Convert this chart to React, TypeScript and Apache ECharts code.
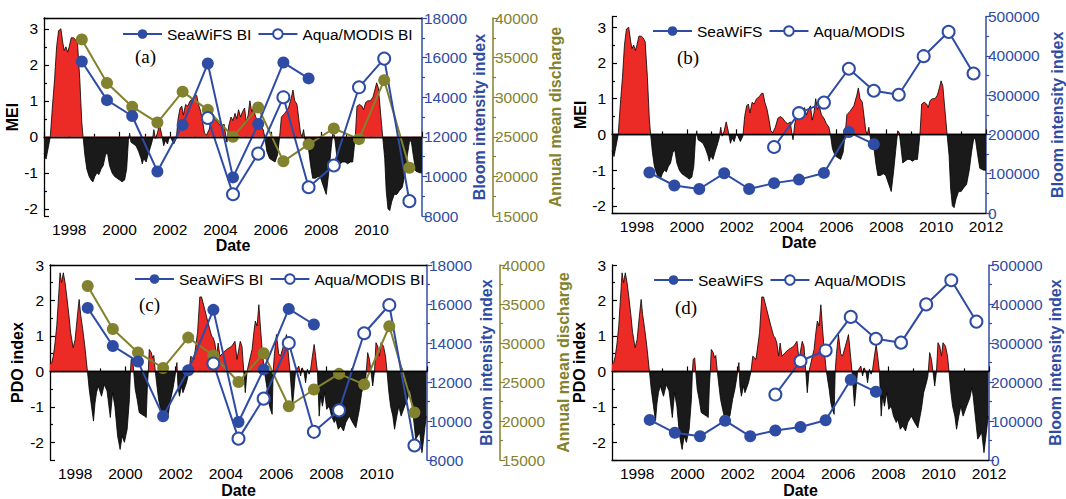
import React, { useEffect, useRef } from 'react';
import * as echarts from 'echarts';

// Monthly-ish MEI (year, value)
const meiData: [number, number][] = [
  [1997.0, -0.45], [1997.08, -0.62], [1997.17, -0.3], [1997.25, 0.0], [1997.33, 0.8], [1997.42, 1.6],
  [1997.5, 2.5], [1997.58, 2.95], [1997.67, 3.0], [1997.75, 2.6], [1997.8, 2.4], [1997.87, 2.5],
  [1997.94, 2.35], [1998.0, 2.5], [1998.08, 2.75], [1998.17, 2.75], [1998.25, 2.7], [1998.33, 2.6],
  [1998.42, 1.6], [1998.5, 0.4], [1998.55, 0.0], [1998.62, -0.5], [1998.7, -0.9], [1998.79, -1.1],
  [1998.87, -1.2], [1998.94, -1.25], [1999.02, -1.1], [1999.1, -1.0], [1999.18, -1.05], [1999.26, -0.9],
  [1999.35, -0.8], [1999.44, -0.5], [1999.52, -0.45], [1999.6, -0.8], [1999.7, -1.0], [1999.8, -1.1],
  [1999.9, -1.15], [2000.0, -1.2], [2000.1, -1.25], [2000.2, -1.2], [2000.28, -0.9], [2000.35, -0.1],
  [2000.4, 0.1], [2000.45, -0.15], [2000.55, -0.2], [2000.65, -0.25], [2000.75, -0.4], [2000.85, -0.6],
  [2000.9, -0.75], [2000.96, -0.6], [2001.05, -0.7], [2001.13, -0.5], [2001.22, -0.3], [2001.3, -0.1],
  [2001.36, 0.2], [2001.42, -0.05], [2001.5, 0.1], [2001.58, 0.35], [2001.66, 0.1], [2001.75, -0.25],
  [2001.82, -0.1], [2001.9, -0.2], [2001.98, 0.0], [2002.05, -0.05], [2002.15, -0.2], [2002.25, -0.05],
  [2002.32, 0.5], [2002.4, 0.8], [2002.47, 0.85], [2002.53, 0.6], [2002.62, 0.9], [2002.7, 0.85],
  [2002.8, 1.0], [2002.9, 1.05], [2003.0, 1.15], [2003.06, 1.15], [2003.13, 0.9], [2003.22, 0.7],
  [2003.3, 0.4], [2003.37, 0.1], [2003.45, 0.05], [2003.55, 0.2], [2003.65, 0.45], [2003.75, 0.5],
  [2003.85, 0.45], [2003.95, 0.35], [2004.05, 0.3], [2004.15, 0.35], [2004.22, 0.0], [2004.26, -0.15],
  [2004.33, 0.3], [2004.42, 0.55], [2004.5, 0.45], [2004.58, 0.65], [2004.65, 0.5], [2004.72, 0.75],
  [2004.8, 0.55], [2004.88, 0.7], [2004.96, 0.8], [2005.03, 0.4], [2005.1, 0.6], [2005.17, 1.0],
  [2005.24, 0.7], [2005.31, 0.8], [2005.4, 0.55], [2005.5, 0.45], [2005.6, 0.3], [2005.7, 0.2],
  [2005.76, 0.0], [2005.84, -0.4], [2005.95, -0.6], [2006.05, -0.65], [2006.17, -0.7], [2006.27, -0.5],
  [2006.35, 0.0], [2006.42, 0.55], [2006.55, 0.65], [2006.7, 0.8], [2006.82, 1.1], [2006.88, 1.3],
  [2006.95, 1.0], [2007.04, 0.9], [2007.11, 0.5], [2007.18, 0.1], [2007.24, 0.0], [2007.3, 0.2],
  [2007.35, -0.05], [2007.42, -0.3], [2007.5, -0.35], [2007.58, -0.8], [2007.66, -1.15], [2007.77, -1.15],
  [2007.88, -1.1], [2007.98, -1.15], [2008.1, -1.4], [2008.2, -1.6], [2008.3, -1.0], [2008.4, -0.3],
  [2008.46, 0.1], [2008.52, 0.05], [2008.58, -0.3], [2008.66, -0.8], [2008.75, -0.75], [2008.85, -0.7],
  [2008.95, -0.7], [2009.05, -0.75], [2009.15, -0.7], [2009.25, -0.7], [2009.31, -0.3], [2009.36, 0.1],
  [2009.42, 0.85], [2009.52, 0.9], [2009.62, 0.85], [2009.68, 0.75], [2009.76, 0.95], [2009.85, 1.0],
  [2009.95, 1.0], [2010.05, 1.1], [2010.13, 1.3], [2010.2, 1.5], [2010.27, 1.35], [2010.37, 0.55],
  [2010.44, 0.0], [2010.52, -0.6], [2010.58, -1.5], [2010.65, -2.0], [2010.72, -2.05], [2010.8, -1.8],
  [2010.9, -1.6], [2011.0, -1.6], [2011.1, -1.5], [2011.22, -1.4], [2011.33, -1.0], [2011.42, -0.5],
  [2011.5, -0.15], [2011.57, -0.1], [2011.65, -0.5], [2011.75, -0.95], [2011.9, -1.0], [2012.0, -1.0],
];

// PDO index (year, value)
const pdoData: [number, number][] = [
  [1997.0, 0.2], [1997.07, 0.25], [1997.13, 0.43], [1997.2, 0.8], [1997.27, 1.3], [1997.35, 2.2],
  [1997.4, 2.78], [1997.46, 2.5], [1997.53, 2.78], [1997.6, 2.5], [1997.67, 2.1], [1997.75, 1.6],
  [1997.82, 1.1], [1997.92, 0.67], [1998.0, 0.9], [1998.08, 1.5], [1998.16, 2.03], [1998.22, 1.6],
  [1998.3, 1.2], [1998.38, 0.75], [1998.49, 0.0], [1998.56, -0.5], [1998.65, -0.98], [1998.73, -1.4],
  [1998.79, -0.9], [1998.85, -0.6], [1998.92, -0.41], [1999.05, -0.7], [1999.16, -0.37], [1999.27, -0.55],
  [1999.4, -1.3], [1999.49, -0.6], [1999.58, -0.98], [1999.69, -1.82], [1999.79, -2.2], [1999.87, -1.82],
  [1999.96, -2.0], [2000.07, -1.63], [2000.16, -0.79], [2000.2, 0.0], [2000.23, 0.34], [2000.29, 0.38],
  [2000.33, 0.0], [2000.39, -0.5], [2000.47, -0.8], [2000.55, -1.16], [2000.63, -1.2], [2000.76, -1.26],
  [2000.83, -1.3], [2000.87, -0.5], [2000.91, 0.0], [2000.95, 0.62], [2001.03, 0.53], [2001.08, 0.38],
  [2001.13, 0.45], [2001.19, 0.0], [2001.24, -0.32], [2001.32, -0.79], [2001.4, -1.07], [2001.49, -1.35],
  [2001.63, -1.3], [2001.69, -1.26], [2001.8, -0.79], [2001.89, -0.5], [2001.96, -0.2], [2002.05, 0.25],
  [2002.09, -0.41], [2002.15, -0.7], [2002.23, -0.41], [2002.29, -0.6], [2002.43, -0.32], [2002.53, 0.0],
  [2002.6, 0.43], [2002.73, 0.34], [2002.87, 1.09], [2002.96, 2.1], [2003.03, 2.1], [2003.16, 1.74],
  [2003.29, 1.37], [2003.43, 1.0], [2003.49, 0.95], [2003.56, 0.8], [2003.63, 0.43], [2003.69, 0.8],
  [2003.76, 0.43], [2003.89, 0.53], [2004.03, 0.62], [2004.23, 0.71], [2004.36, 0.85], [2004.44, 0.34],
  [2004.57, 0.85], [2004.64, 0.7], [2004.71, 0.0], [2004.77, -0.6], [2004.84, 0.0], [2004.95, 0.35],
  [2005.04, 0.62], [2005.11, 1.09], [2005.17, 1.42], [2005.24, 1.28], [2005.31, 1.88], [2005.37, 1.28],
  [2005.44, 0.62], [2005.53, 0.0], [2005.64, -0.5], [2005.71, -0.9], [2005.77, -1.07], [2005.84, -1.21],
  [2005.88, 0.0], [2005.93, 0.5], [2006.01, 1.04], [2006.1, 0.5], [2006.17, 0.43], [2006.28, 0.7],
  [2006.41, 1.04], [2006.55, 0.0], [2006.6, -0.5], [2006.65, -0.98], [2006.71, -0.5], [2006.77, 0.0],
  [2006.9, 0.15], [2006.97, -0.13], [2007.04, 0.1], [2007.11, -0.04], [2007.17, -0.32], [2007.24, 0.06],
  [2007.31, -0.08], [2007.37, 0.06], [2007.44, 0.43], [2007.51, 0.76], [2007.57, 0.43], [2007.64, 0.0],
  [2007.71, -1.26], [2007.77, -0.7], [2007.84, -0.98], [2007.93, -0.6], [2008.01, -1.07], [2008.11, -0.98],
  [2008.2, -1.26], [2008.31, -1.44], [2008.37, -1.35], [2008.47, -1.63], [2008.57, -1.54], [2008.68, -1.68],
  [2008.77, -1.44], [2008.91, -1.26], [2009.04, -1.44], [2009.17, -1.59], [2009.31, -1.07], [2009.4, -0.6],
  [2009.51, -0.32], [2009.57, -0.13], [2009.64, 0.53], [2009.71, 0.34], [2009.77, 0.0], [2009.84, -0.41],
  [2009.91, 0.0], [2009.97, 0.81], [2010.04, 0.71], [2010.11, 0.43], [2010.17, 0.81], [2010.27, 0.71],
  [2010.35, 0.43], [2010.41, 0.0], [2010.47, -0.5], [2010.55, -0.98], [2010.64, -1.26], [2010.71, -1.63],
  [2010.8, -1.26], [2010.88, -0.98], [2010.97, -1.26], [2011.11, -0.98], [2011.24, -0.74], [2011.32, -0.46],
  [2011.37, -0.7], [2011.48, -1.44], [2011.55, -1.91], [2011.63, -1.82], [2011.71, -1.72], [2011.8, -2.29],
  [2011.88, -1.82], [2011.97, -1.26],
];

const seawifsYears = [1998.5, 1999.5, 2000.5, 2001.5, 2002.5, 2003.5, 2004.5, 2005.5, 2006.5, 2007.5];
const seawifsBI = [15800, 13850, 13050, 10250, 12600, 15700, 9950, 12650, 15750, 14950];
const seawifsBIcount = [103000, 70000, 61000, 101000, 61000, 76000, 85000, 102000, 206000, 175000];

const modisYears = [2003.5, 2004.5, 2005.5, 2006.5, 2007.5, 2008.5, 2009.5, 2010.5, 2011.5];
const modisBI = [12950, 9100, 11150, 14000, 9450, 10550, 14500, 15950, 8750];
const modisBIcount = [168000, 254000, 281000, 367000, 311000, 301000, 399000, 461000, 355000];

const dischargeYears = [1998.5, 1999.5, 2000.5, 2001.5, 2002.5, 2003.5, 2004.5, 2005.5, 2006.5, 2007.5, 2008.5, 2009.5, 2010.5, 2011.5];
const discharge = [37300, 31800, 28800, 26800, 30700, 28400, 25000, 28700, 21900, 24050, 26050, 24700, 32150, 21100];

const BLUE = '#2f4ca4';
const OLIVE = '#82822e';
const RED = '#ec2a26';
const DARK = '#1a1a1a';
const FONT = '"Liberation Sans", Arial, Helvetica, sans-serif';

const zip = (xs: number[], ys: number[]) => xs.map((x, i) => [x, ys[i]]);
const fmt = (v: number) => String(v);

export default function App() {
  const ref = useRef<HTMLDivElement>(null);
  useEffect(() => {
    document.body.style.margin = '0';
    if (!ref.current) return;
    const chart = echarts.init(ref.current, undefined, { renderer: 'svg' });

    const grids = [
      { left: 44, top: 18, width: 378, height: 198 },
      { left: 612, top: 16.5, width: 377, height: 196.5 },
      { left: 50, top: 265, width: 377, height: 196.5 },
      { left: 612, top: 265, width: 377, height: 195.5 },
    ];

    const xBottom = (gridIndex: number, showMax: boolean) => ({
      type: 'value', gridIndex, min: 1997, max: 2012, splitNumber: 7,
      name: 'Date', nameLocation: 'middle', nameGap: 20,
      nameTextStyle: { fontWeight: 'bold', fontSize: 16, color: '#000', fontFamily: FONT },
      axisLine: { lineStyle: { color: '#000', width: 1.3 } },
      axisTick: { inside: true, length: 5, lineStyle: { color: '#000', width: 1.2 } },
      minorTick: { show: true, splitNumber: 2, length: 3, lineStyle: { color: '#000', width: 1.2 } },
      axisLabel: { color: '#000', fontSize: 15.5, lineHeight: 14, margin: 6, showMinLabel: false, showMaxLabel: showMax, formatter: fmt, fontFamily: FONT },
      splitLine: { show: false },
    });
    const xTop = (gridIndex: number) => ({
      type: 'value', gridIndex, min: 1997, max: 2012, position: 'top',
      axisLine: { lineStyle: { color: '#000', width: 1.3 } },
      axisTick: { show: false }, axisLabel: { show: false }, splitLine: { show: false },
    });
    const yLeft = (gridIndex: number, name: string, min: number, max: number, showMax: boolean, gap: number) => ({
      type: 'value', gridIndex, min, max, splitNumber: 5, position: 'left',
      name, nameLocation: 'middle', nameGap: gap,
      nameTextStyle: { fontWeight: 'bold', fontSize: 16, color: '#000', fontFamily: FONT },
      axisLine: { show: true, lineStyle: { color: '#000', width: 1.3 } },
      axisTick: { inside: true, length: 5, lineStyle: { color: '#000', width: 1.2 } },
      minorTick: { show: true, splitNumber: 2, length: 3, lineStyle: { color: '#000', width: 1.2 } },
      axisLabel: { color: '#000', fontSize: 15.5, margin: 6, showMinLabel: false, showMaxLabel: showMax, formatter: fmt, fontFamily: FONT },
      splitLine: { show: false },
    });
    const yRight = (gridIndex: number, name: string, min: number, max: number, interval: number, color: string, gap: number, offset: number) => ({
      type: 'value', gridIndex, min, max, interval, position: 'right', offset,
      name, nameLocation: 'middle', nameGap: gap,
      nameTextStyle: { fontWeight: 'bold', fontSize: 16, color, fontFamily: FONT },
      axisLine: { show: true, lineStyle: { color, width: 1.5 } },
      axisTick: { show: true, inside: false, length: 5, lineStyle: { color, width: 1.2 } },
      minorTick: { show: true, splitNumber: 2, length: 3, lineStyle: { color, width: 1.2 } },
      axisLabel: { color, fontSize: 15.5, lineHeight: 11, margin: 2, formatter: fmt, fontFamily: FONT },
      splitLine: { show: false },
    });

    const xAxis = [
      xBottom(0, false), xBottom(1, true), xBottom(2, false), xBottom(3, true),
      xTop(0), xTop(1), xTop(2), xTop(3),
    ];
    const yAxis = [
      yLeft(0, 'MEI', -2.2, 3.3, false, 22), // 0
      yRight(0, 'Bloom intensity index', 8000, 18000, 2000, BLUE, 48, 0), // 1
      yRight(0, 'Annual mean discharge', 15000, 40000, 5000, OLIVE, 54, 71), // 2
      yLeft(1, 'MEI', -2.2, 3.3, false, 22), // 3
      yRight(1, 'Bloom intensity index', 0, 500000, 100000, BLUE, 63, 0), // 4
      yLeft(2, 'PDO index', -2.5, 3, true, 25), // 5
      yRight(2, 'Bloom intensity index', 8000, 18000, 2000, BLUE, 51, 0), // 6
      yRight(2, 'Annual mean discharge', 15000, 40000, 5000, OLIVE, 55, 73), // 7
      yLeft(3, 'PDO index', -2.5, 3, true, 25), // 8
      yRight(3, 'Bloom intensity index', 0, 500000, 100000, BLUE, 58, 0), // 9
    ];

    const area = (x: number, y: number, data: [number, number][]) => ({
      type: 'line', xAxisIndex: x, yAxisIndex: y, data, symbol: 'none', showSymbol: false,
      lineStyle: { color: '#000', width: 0.8 }, areaStyle: { opacity: 1 }, z: 1, silent: true,
      markLine: {
        silent: true, symbol: 'none', label: { show: false },
        lineStyle: { color: '#000', width: 1.3, type: 'solid' }, data: [{ yAxis: 0 }],
      },
    });
    const pts = (name: string, x: number, y: number, xs: number[], ys: number[], color: string, empty: boolean) => ({
      name, type: 'line', xAxisIndex: x, yAxisIndex: y, data: zip(xs, ys),
      symbol: empty ? 'emptyCircle' : 'circle', symbolSize: 12, showSymbol: true,
      lineStyle: { color, width: 2 },
      itemStyle: empty ? { color, borderColor: color, borderWidth: 1.6 } : { color },
      z: 3,
    });

    const series = [
      area(0, 0, meiData),
      area(1, 3, meiData),
      area(2, 5, pdoData),
      area(3, 8, pdoData),
      pts('Annual mean discharge', 0, 2, dischargeYears, discharge, OLIVE, false),
      pts('SeaWiFS BI', 0, 1, seawifsYears, seawifsBI, BLUE, false),
      pts('Aqua/MODIS BI', 0, 1, modisYears, modisBI, BLUE, true),
      pts('SeaWiFS', 1, 4, seawifsYears, seawifsBIcount, BLUE, false),
      pts('Aqua/MODIS', 1, 4, modisYears, modisBIcount, BLUE, true),
      pts('Annual mean discharge', 2, 7, dischargeYears, discharge, OLIVE, false),
      pts('SeaWiFS BI', 2, 6, seawifsYears, seawifsBI, BLUE, false),
      pts('Aqua/MODIS BI', 2, 6, modisYears, modisBI, BLUE, true),
      pts('SeaWiFS', 3, 9, seawifsYears, seawifsBIcount, BLUE, false),
      pts('Aqua/MODIS', 3, 9, modisYears, modisBIcount, BLUE, true),
    ];

    const legendBase = {
      itemWidth: 39, itemHeight: 12, itemGap: 6, orient: 'horizontal', padding: 0,
      textStyle: { fontSize: 15.5, color: '#000', fontFamily: FONT },
    };
    const legend = [
      { ...legendBase, left: 122, top: 26, data: ['SeaWiFS BI', 'Aqua/MODIS BI'] },
      { ...legendBase, left: 652, top: 23, data: ['SeaWiFS', 'Aqua/MODIS'] },
      { ...legendBase, left: 134, top: 271, data: ['SeaWiFS BI', 'Aqua/MODIS BI'] },
      { ...legendBase, left: 653, top: 272, data: ['SeaWiFS', 'Aqua/MODIS'] },
    ];

    const letter = (text: string, left: number, top: number) => ({
      type: 'text', left, top,
      style: { text, font: '19px "Liberation Serif", "Times New Roman", serif', fill: '#000' },
    });

    chart.setOption({
      animation: false,
      backgroundColor: '#fff',
      textStyle: { fontFamily: FONT },
      grid: grids,
      xAxis,
      yAxis,
      legend,
      visualMap: [{
        type: 'piecewise', show: false, seriesIndex: [0, 1, 2, 3], dimension: 1,
        pieces: [{ gt: -10, lte: 0, color: DARK }, { gt: 0, lte: 10, color: RED }],
      }],
      series,
      graphic: [
        letter('(a)', 135, 47),
        letter('(b)', 677, 48),
        letter('(c)', 139, 295),
        letter('(d)', 675, 298),
      ],
    });
    return () => chart.dispose();
  }, []);
  return <div ref={ref} style={{ width: 1066, height: 499 }} />;
}
